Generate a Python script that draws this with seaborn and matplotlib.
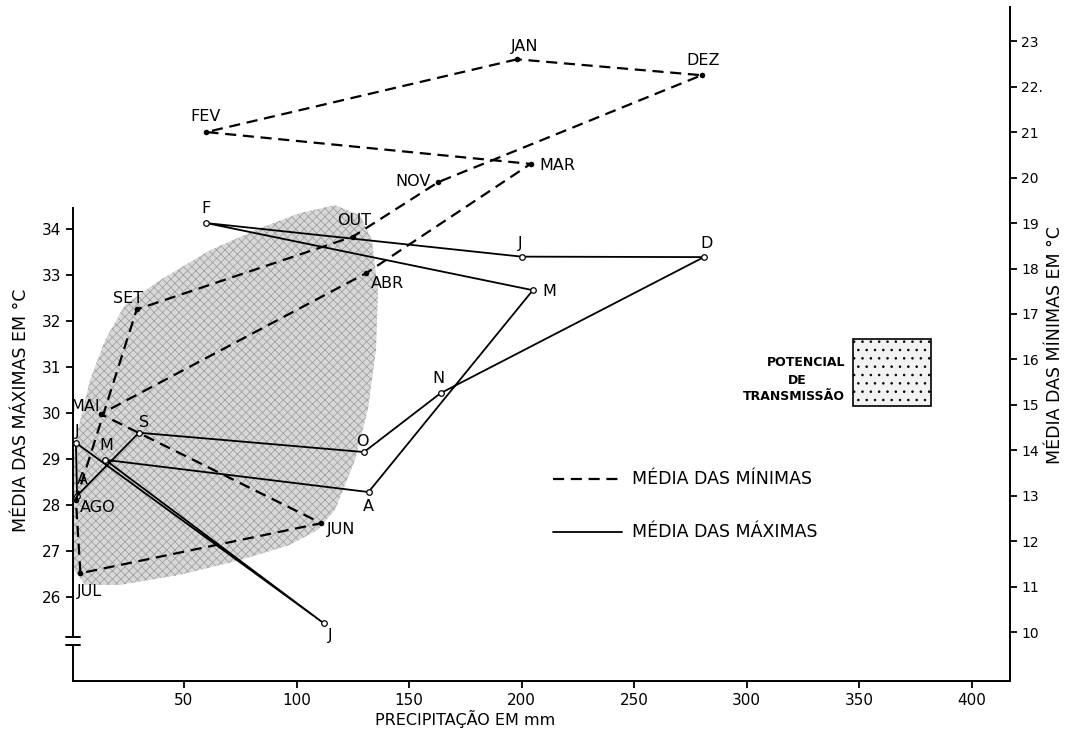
import matplotlib
matplotlib.use("Agg")
import matplotlib.pyplot as plt
import matplotlib.transforms as mtransforms
from matplotlib.patches import Rectangle
import pandas as pd
import seaborn as sns

# ---- data ----
months_min = ["JAN", "FEV", "MAR", "ABR", "MAI", "JUN", "JUL", "AGO", "SET", "OUT", "NOV", "DEZ"]
precip_min = [198, 60, 204, 131, 13, 111, 4, 2, 29, 125, 163, 280]
temp_min = [22.6, 21.0, 20.3, 17.9, 14.8, 12.4, 11.3, 12.9, 17.1, 18.7, 19.9, 22.25]

months_max = ["J", "F", "M", "A", "M", "J", "J", "A", "S", "O", "N", "D"]
precip_max = [200, 60, 205, 132, 15, 112, 2, 2.5, 30, 130, 164, 281]
temp_max = [33.4, 34.13, 32.67, 28.28, 28.98, 25.43, 29.35, 28.2, 29.57, 29.15, 30.43, 33.39]

# outline of the "potencial de transmissao" area (precip mm, max temp)
zone_precip = [2.9, 8.3, 15.0, 23.8, 39.4, 61.6, 83.8, 101.6, 117.1, 128.2, 133.5, 136.2,
               135.3, 131.7, 126.0, 117.1, 109.5, 97.1, 74.9, 48.2, 21.6, 6.0, 1.2, 0.7]
zone_temp = [29.63, 30.72, 31.59, 32.35, 32.89, 33.54, 34.02, 34.35, 34.52, 34.30, 33.76, 32.67,
             31.37, 30.07, 28.98, 27.89, 27.46, 27.13, 26.80, 26.48, 26.26, 26.26, 26.59, 28.98]

x_ticks = [50, 100, 150, 200, 250, 300, 350, 400]
left_ticks = [26, 27, 28, 29, 30, 31, 32, 33, 34]
right_ticks = list(range(10, 24))
right_ticklabels = ["10", "11", "12", "13", "14", "15", "16", "17", "18", "19", "20", "21", "22.", "23"]

# label offsets in pixels (dx, dy)
min_offsets = [(8, 13), (-1, 16), (27, -2), (21, -10), (-15, 8), (20, -6),
               (9, -18), (22, -7), (-9, 11), (1, 16), (-25, 1), (1, 15)]
max_offsets = [(-1, 13), (0, 15), (16, -1), (0, -14), (1, 14), (7, -12),
               (1, 11), (5, 16), (5, 10), (-2, 11), (-2, 15), (3, 14)]

sns.set_theme(style="ticks")
plt.rcParams['font.family'] = ['DejaVu Sans']
plt.rcParams['hatch.linewidth'] = 0.6
plt.rcParams['text.color'] = 'black'
plt.rcParams['axes.labelcolor'] = 'black'

W, H = 1068, 741
fig = plt.figure(figsize=(W / 100, H / 100), dpi=100)
fig.patch.set_facecolor("white")
ax = fig.add_axes([73 / W, (H - 681) / H, 937 / W, 674 / H])
ax2 = ax.twinx()
ax.set_facecolor("white")

# shaded area
ax.fill(zone_precip, zone_temp, facecolor="#d8d8d8", hatch="xxxx", edgecolor="#a2a2a2",
        linewidth=0, zorder=1)

df_max = pd.DataFrame({"precip": precip_max, "temp": temp_max})
df_min = pd.DataFrame({"precip": precip_min, "temp": temp_min})
loop_max = pd.concat([df_max, df_max.iloc[:1]], ignore_index=True)
loop_min = pd.concat([df_min, df_min.iloc[:1]], ignore_index=True)

sns.lineplot(data=loop_max, x="precip", y="temp", sort=False, estimator=None, ax=ax,
             color="black", linewidth=1.3, zorder=3)
sns.scatterplot(data=df_max, x="precip", y="temp", ax=ax, s=16, color="white",
                edgecolor="black", linewidth=0.9, zorder=4)

sns.lineplot(data=loop_min, x="precip", y="temp", sort=False, estimator=None, ax=ax2,
             color="black", linewidth=1.6, linestyle=(0, (5, 3)), zorder=3)
sns.scatterplot(data=df_min, x="precip", y="temp", ax=ax2, s=16, color="black",
                edgecolor="black", linewidth=0, zorder=4)

for lab, px, ty, off in zip(months_max, precip_max, temp_max, max_offsets):
    ax.annotate(lab, (px, ty), xytext=off, textcoords="offset pixels",
                ha="center", va="center", fontsize=11.5, color="black", zorder=6)
for lab, px, ty, off in zip(months_min, precip_min, temp_min, min_offsets):
    ax2.annotate(lab, (px, ty), xytext=off, textcoords="offset pixels",
                 ha="center", va="center", fontsize=11.5, color="black", zorder=6)

# axes limits / ticks
ax.set_xlim(0.7, 417)
ax.set_ylim(24.17, 38.83)
ax2.set_ylim(8.93, 23.75)
ax.set_xticks(x_ticks)
ax.set_xticklabels([str(v) for v in x_ticks])
ax.set_yticks(left_ticks)
ax.set_yticklabels([str(v) for v in left_ticks])
ax2.set_yticks(right_ticks)
ax2.set_yticklabels(right_ticklabels)

for a in (ax, ax2):
    a.spines["top"].set_visible(False)
ax.spines["right"].set_visible(False)
ax2.spines["left"].set_visible(False)
ax2.spines["bottom"].set_visible(False)
ax.spines["left"].set_bounds(24.17, 34.46)
for sp in (ax.spines["left"], ax.spines["bottom"], ax2.spines["right"]):
    sp.set_linewidth(1.4)
    sp.set_color("black")

ax.tick_params(axis="both", direction="out", length=5, width=1.3, colors="black", labelsize=11)
ax2.tick_params(axis="y", direction="out", length=5, width=1.3, colors="black", labelsize=10,
                pad=3)
ax.grid(False)
ax2.grid(False)

ax.set_xlabel("PRECIPITAÇÃO EM mm", fontsize=11.5)
ax.xaxis.set_label_coords((465 - 73) / 937, (681 - 710) / 674)
ax.set_ylabel("MÉDIA DAS MÁXIMAS EM °C", fontsize=12.5)
ax.yaxis.set_label_coords((30 - 73) / 937, (681 - 410) / 674)
ax2.set_ylabel("MÉDIA DAS MÍNIMAS EM °C", fontsize=12.5)
ax2.yaxis.set_label_coords((1046 - 73) / 937, (681 - 345) / 674)

# break marks on the left axis
blend = mtransforms.blended_transform_factory(ax.transAxes, ax.transData)
ax.add_patch(Rectangle((-0.004, 24.98), 0.008, 0.14, transform=blend, facecolor="white",
                       edgecolor="none", clip_on=False, zorder=7))
for yb in (25.13, 24.96):
    ax.plot([-0.007, 0.007], [yb, yb], transform=blend, color="black", lw=1.4,
            clip_on=False, zorder=8)

# legend drawn by hand
fx = lambda x: (x - 73) / 937
fy = lambda y: (681 - y) / 674
ax.plot([fx(553), fx(620)], [fy(479), fy(479)], transform=ax.transAxes, color="black",
        lw=1.6, linestyle=(0, (5, 3)))
ax.plot([fx(553), fx(622)], [fy(532), fy(532)], transform=ax.transAxes, color="black", lw=1.3)
ax.text(fx(632), fy(479), "MÉDIA DAS MÍNIMAS", transform=ax.transAxes, fontsize=12.5,
        ha="left", va="center")
ax.text(fx(632), fy(532), "MÉDIA DAS MÁXIMAS", transform=ax.transAxes, fontsize=12.5,
        ha="left", va="center")

ax.add_patch(Rectangle((fx(853), fy(406)), fx(931) - fx(853), fy(339) - fy(406),
                       transform=ax.transAxes, facecolor="#f2f2f2", hatch="..",
                       edgecolor="black", linewidth=1.2, zorder=5))
ax.text(fx(845), fy(363), "POTENCIAL", transform=ax.transAxes, fontsize=9,
        ha="right", va="center", fontweight="bold")
ax.text(fx(797), fy(380), "DE", transform=ax.transAxes, fontsize=9,
        ha="center", va="center", fontweight="bold")
ax.text(fx(845), fy(397), "TRANSMISSÃO", transform=ax.transAxes, fontsize=9,
        ha="right", va="center", fontweight="bold")

fig.savefig("out.png", dpi=100, facecolor="white")
